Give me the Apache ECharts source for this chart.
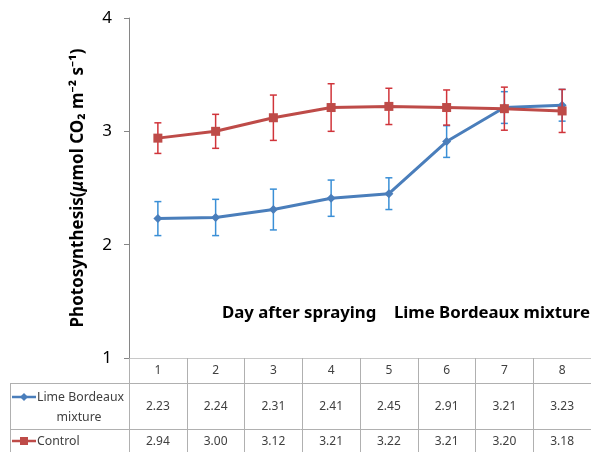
<!DOCTYPE html>
<html><head><meta charset="utf-8">
<script src="https://cdn.jsdelivr.net/npm/echarts@6/dist/echarts.min.js"></script>
<style>html,body{margin:0;padding:0;background:#fff}#c{width:591px;height:452px}</style>
</head><body><div id="c"></div>
<script>
const days = ['1','2','3','4','5','6','7','8'];
const limeValues = [2.23, 2.24, 2.31, 2.41, 2.45, 2.91, 3.21, 3.23];
const controlValues = [2.94, 3.00, 3.12, 3.21, 3.22, 3.21, 3.20, 3.18];
const limeErrors = [0.15, 0.16, 0.18, 0.16, 0.14, 0.14, 0.14, 0.14];
const controlErrors = [0.135, 0.15, 0.20, 0.21, 0.16, 0.155, 0.19, 0.19];
const seriesNames = ['Lime Bordeaux mixture', 'Control'];

const FONT = '"Noto Sans", "Open Sans", sans-serif';
const BLUE = '#4a7ebb', RED = '#be4b48';
const BLUE_ERR = '#3a8fd6', RED_ERR = '#d0343a';
const GRID = '#b0b0b0';

function errRender(color) {
  return function (params, api) {
    const i = api.value(0), v = api.value(1), e = api.value(2);
    const t = api.coord([i, v + e]);
    const b = api.coord([i, v - e]);
    const hw = 3.5;
    const st = {stroke: color, lineWidth: 1.5};
    return {type: 'group', children: [
      {type: 'line', shape: {x1: t[0], y1: t[1], x2: b[0], y2: b[1]}, style: st},
      {type: 'line', shape: {x1: t[0]-hw, y1: t[1], x2: t[0]+hw, y2: t[1]}, style: st},
      {type: 'line', shape: {x1: b[0]-hw, y1: b[1], x2: b[0]+hw, y2: b[1]}, style: st}
    ]};
  };
}

const chart = echarts.init(document.getElementById('c'));
chart.setOption({
  animation: false,
  backgroundColor: '#fff',
  grid: {left: 129, right: -1, top: 18, bottom: 94, containLabel: false},
  xAxis: {
    type: 'category', data: days, boundaryGap: true,
    axisLine: {show: true, lineStyle: {color: '#c8c8c8', width: 1}},
    axisTick: {show: true, interval: 0, length: 94, lineStyle: {color: GRID}},
    axisLabel: {
      interval: 0, margin: 0, verticalAlign: 'top',
      formatter: function (val, idx) {
        return '{h|' + val + '}\n{a|' + limeValues[idx].toFixed(2) + '}\n{b|' + controlValues[idx].toFixed(2) + '}';
      },
      rich: {
        h: {fontSize: 12, lineHeight: 26, color: '#404040', fontFamily: FONT},
        a: {fontSize: 12, lineHeight: 45, color: '#404040', fontFamily: FONT},
        b: {fontSize: 12, lineHeight: 25, color: '#404040', fontFamily: FONT}
      }
    },
    splitLine: {show: false}
  },
  yAxis: {
    type: 'value', min: 1, max: 4, interval: 1,
    axisLine: {show: true, lineStyle: {color: '#868686'}},
    axisTick: {show: true, length: 5, lineStyle: {color: '#868686'}},
    axisLabel: {fontSize: 17, color: '#000', margin: 17, fontFamily: FONT},
    splitLine: {show: false},
    name: '{n|Photosynthesis(}{mu|μ}{n|mol CO₂ m⁻² s⁻¹)}',
    nameLocation: 'middle', nameRotate: 90, nameGap: 42,
    nameTextStyle: {
      rich: {
        n: {fontSize: 17, fontWeight: 'bold', color: '#000', fontFamily: FONT},
        mu: {fontSize: 17, fontWeight: 'bold', fontStyle: 'italic', color: '#000', fontFamily: FONT}
      }
    }
  },
  series: [
    {name: seriesNames[0], type: 'line', data: limeValues, symbol: 'diamond', symbolSize: 9,
     lineStyle: {color: BLUE, width: 3}, itemStyle: {color: BLUE}, z: 3},
    {type: 'custom', data: days.map((d, i) => [i, limeValues[i], limeErrors[i]]),
     renderItem: errRender(BLUE_ERR), z: 2},
    {name: seriesNames[1], type: 'line', data: controlValues, symbol: 'rect', symbolSize: 9,
     lineStyle: {color: RED, width: 3}, itemStyle: {color: RED}, z: 5},
    {type: 'custom', data: days.map((d, i) => [i, controlValues[i], controlErrors[i]]),
     renderItem: errRender(RED_ERR), z: 4}
  ],
  graphic: [
    {type: 'line', shape: {x1: 10, y1: 383.5, x2: 591, y2: 383.5}, style: {stroke: GRID, lineWidth: 1}},
    {type: 'line', shape: {x1: 10, y1: 429.5, x2: 591, y2: 429.5}, style: {stroke: GRID, lineWidth: 1}},
    {type: 'line', shape: {x1: 10.5, y1: 383, x2: 10.5, y2: 452}, style: {stroke: GRID, lineWidth: 1}},
    {type: 'line', shape: {x1: 12, y1: 397, x2: 36, y2: 397}, style: {stroke: BLUE, lineWidth: 2.5}},
    {type: 'polygon', shape: {points: [[24, 393], [28, 397], [24, 401], [20, 397]]}, style: {fill: BLUE}},
    {type: 'line', shape: {x1: 12, y1: 441, x2: 36, y2: 441}, style: {stroke: RED, lineWidth: 2.5}},
    {type: 'rect', shape: {x: 20, y: 437, width: 8, height: 8}, style: {fill: RED}},
    {type: 'text', x: 37, y: 397, style: {text: 'Lime Bordeaux', fontSize: 12.3, fill: '#404040', fontFamily: FONT, verticalAlign: 'middle'}},
    {type: 'text', x: 79, y: 417, style: {text: 'mixture', fontSize: 12.3, fill: '#404040', fontFamily: FONT, verticalAlign: 'middle', align: 'center'}},
    {type: 'text', x: 37, y: 441, style: {text: 'Control', fontSize: 12.3, fill: '#404040', fontFamily: FONT, verticalAlign: 'middle'}},
    {type: 'text', x: 222, y: 313, style: {text: 'Day after spraying', fontSize: 16.8, fontWeight: 'bold', fill: '#000', fontFamily: FONT, verticalAlign: 'middle'}},
    {type: 'text', x: 590, y: 313, style: {text: 'Lime Bordeaux mixture', fontSize: 16.8, fontWeight: 'bold', fill: '#000', fontFamily: FONT, verticalAlign: 'middle', align: 'right'}}
  ]
});
</script>
</body></html>
